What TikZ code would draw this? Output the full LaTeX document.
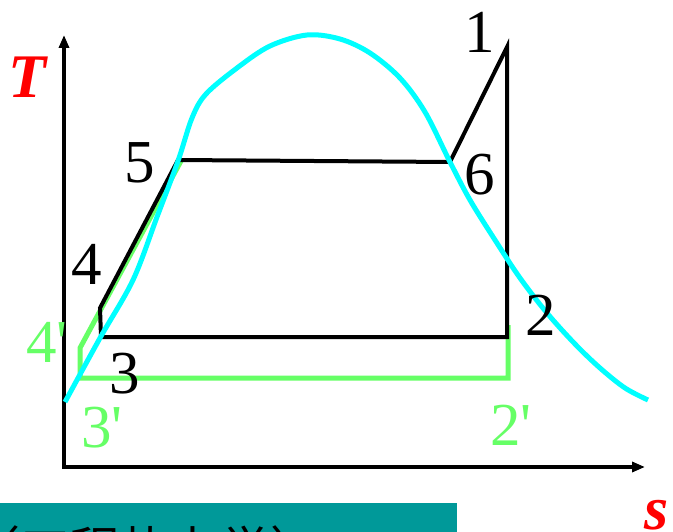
\documentclass[tikz,border=0pt]{standalone}
\usepackage{fontspec}
\setmainfont{Liberation Serif}
\newfontfamily\cjkfont{Noto Sans CJK SC}
\usetikzlibrary{arrows.meta}
\definecolor{dome}{HTML}{00FFFF}
\definecolor{gline}{HTML}{66FF66}
\definecolor{teal}{HTML}{009999}
\definecolor{axred}{HTML}{FF0000}
\tikzset{
  axis/.style={line width=4pt,-{Triangle[length=13pt,width=10pt]}},
  cycle/.style={line width=4pt,line join=miter},
  gcycle/.style={gline,line width=5pt,line join=miter},
  domeline/.style={dome,line width=5pt},
  lbl/.style={font=\fontsize{61}{61}\selectfont,inner sep=0pt,anchor=base},
  glbl/.style={lbl,text=gline,anchor=base west},
  axlbl/.style={font=\fontsize{62}{62}\selectfont\bfseries\itshape,text=axred,inner sep=0pt,anchor=base west}
}
\begin{document}
\begin{tikzpicture}[x=1pt,y=-1pt]
\useasboundingbox (0,0) rectangle (673,532);
% axes
\coordinate (o) at (64,467);
\coordinate (ty) at (64,35);
\coordinate (sx) at (645,467);
\draw[axis] (o) -- (ty);
\draw[axis] ([xshift=-2pt]o) -- (sx);
% cycle points
\coordinate (p1) at (507,47);
\coordinate (p6) at (450,162);
\coordinate (p5) at (178,160);
\coordinate (p4) at (100,308);
\coordinate (p3) at (101,337);
\coordinate (p2) at (507,337);
\coordinate (g5) at (181,161);
\coordinate (g4) at (80,348);
\coordinate (g3) at (80,378);
\coordinate (g2) at (508,378);
\coordinate (g2t) at (508,325);
% green cycle
\draw[gcycle] (g5) -- (g4) -- (g3) -- (g2) -- (g2t);
% black cycle
\draw[cycle] (p1) -- (p2) -- (p3) -- (p4) -- (p5) -- (p6) -- cycle;
% saturation dome
\draw[domeline] plot[smooth,tension=0.55] coordinates {
 (65,402) (100,338) (133,280) (157,217) (178,161) (192,118) (206,94) (237,68)
 (270,46) (307,35) (340,39) (370,53) (400,78) (425,112) (450,162) (470,200)
 (495,240) (520,278) (547,313) (575,344) (600,368) (625,388) (648,400)};
% labels
\node[lbl] (l1) at (480,53) {1};
\node[lbl] (l5) at (140,183) {5};
\node[lbl] (l6) at (480,195) {6};
\node[lbl] (l4) at (87,285) {4};
\node[lbl] (l3) at (125,393) {3};
\node[lbl] (l2) at (541,335) {2};
\node[glbl] (l4p) at (26,362) {4\textquotesingle};
\node[glbl] (l3p) at (81,447) {3\textquotesingle};
\node[glbl] (l2p) at (490,445) {2\textquotesingle};
\node[axlbl] (lT) at (8,98) {T};
\node[axlbl] (ls) at (644,529) {s};
% bottom banner
\fill[teal] (0,503) rectangle (457,532);
\begin{scope}
\clip (0,503) rectangle (457,532);
\node[font=\fontsize{50}{50}\selectfont\cjkfont,inner sep=0pt,anchor=base west] (ban) at (-30,568) {（工程热力学）};
\end{scope}
\end{tikzpicture}
\end{document}
